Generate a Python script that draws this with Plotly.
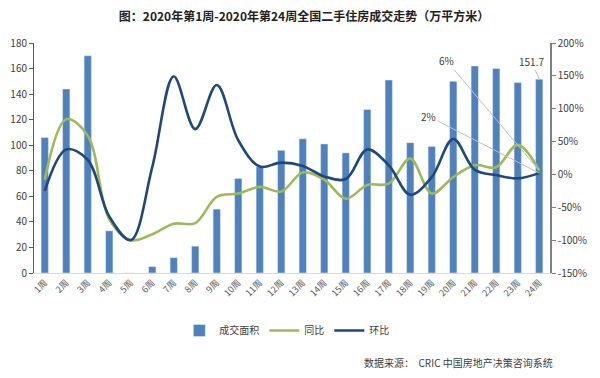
import plotly.graph_objects as go

weeks = [f"{i}周" for i in range(1, 25)]
area = [106, 144, 170, 33, 0, 5, 12, 21, 50, 74, 83, 96,
        105, 101, 94, 128, 151, 102, 99, 150, 162, 160, 149, 151.7]
yoy = [-8, 84, 59, -68, -100, -91, -75, -74, -34, -29, -19, -26,
       3, -8, -37, -16, -14, 24, -29, -4, 14, 11, 45, 6]
mom = [-25, 38, 22, -64, -100, 11, 149, 69, 136, 52, 12, 18,
       13, -3, -7, 38, 14, -31, -4, 54, 7, -1, -6, 2]

left_ticks = list(range(0, 181, 20))
right_ticks = list(range(-150, 201, 50))

FONT = "Noto Sans CJK SC"
BAR = "#4F81BD"
GREEN = "#9BBB59"
NAVY = "#1F497D"

fig = go.Figure()
fig.add_trace(go.Bar(x=weeks, y=area, name="成交面积", marker_color=BAR,
                     width=0.34, yaxis="y"))
fig.add_trace(go.Scatter(x=weeks, y=yoy, name="同比", mode="lines",
                         line=dict(color=GREEN, width=2.6, shape="spline", smoothing=1.0),
                         yaxis="y2"))
fig.add_trace(go.Scatter(x=weeks, y=mom, name="环比", mode="lines",
                         line=dict(color=NAVY, width=2.6, shape="spline", smoothing=1.0),
                         yaxis="y2"))

fig.update_layout(
    width=592, height=370,
    margin=dict(l=26, r=50, t=35, b=105, autoexpand=False),
    paper_bgcolor="white", plot_bgcolor="white",
    font=dict(family=FONT, size=10, color="#404040"),
    title=dict(text="<b>图：2020年第1周-2020年第24周全国二手住房成交走势（万平方米）</b>",
               x=0.5, xanchor="center", y=0.976, yanchor="middle",
               font=dict(family=FONT, size=12, color="#222222")),
    bargap=0.6,
    xaxis=dict(type="category", tickangle=-45, showgrid=False, automargin=False,
               showline=True, linecolor="#D9D9D9", linewidth=1,
               ticks="", tickfont=dict(size=9, color="#595959"),
               range=[-0.5, 23.5]),
    yaxis=dict(range=[0, 180], tickvals=left_ticks, showgrid=False, automargin=False,
               showline=True, linecolor="#595959", linewidth=1,
               ticks="outside", ticklen=4, tickcolor="#595959",
               tickfont=dict(size=10, color="#404040"), zeroline=False),
    yaxis2=dict(range=[-150, 200], tickvals=right_ticks,
                ticktext=[f"{v}%" for v in right_ticks], automargin=False,
                overlaying="y", side="right", showgrid=False,
                showline=True, linecolor="#808080", linewidth=1.5,
                ticks="outside", ticklen=4, tickcolor="#808080",
                tickfont=dict(size=10, color="#404040"), zeroline=False),
    legend=dict(orientation="h", x=0.49, xanchor="center", y=-0.25, yanchor="middle",
                font=dict(size=10, color="#404040"), itemwidth=30,
                tracegroupgap=0, bgcolor="rgba(0,0,0,0)"),
    showlegend=True,
)

last = weeks[-1]
fig.add_annotation(x=last, y=yoy[-1], yref="y2", text="6%", showarrow=True,
                   arrowhead=0, arrowwidth=1, arrowcolor="#BFBFBF",
                   ax=-93, ay=-110, font=dict(size=10, color="#404040"))
fig.add_annotation(x=last, y=mom[-1], yref="y2", text="2%", showarrow=True,
                   arrowhead=0, arrowwidth=1, arrowcolor="#BFBFBF",
                   ax=-111, ay=-57, font=dict(size=10, color="#404040"))
fig.add_annotation(x=last, y=area[-1], yref="y", text="151.7", showarrow=True,
                   arrowhead=0, arrowwidth=1, arrowcolor="#BFBFBF",
                   ax=-8, ay=-18, font=dict(size=10, color="#404040"))

fig.add_annotation(xref="paper", yref="paper", x=1.01, y=-0.389,
                   xanchor="right", yanchor="middle", showarrow=False,
                   text="数据来源：  CRIC 中国房地产决策咨询系统",
                   font=dict(size=10, color="#404040"))

fig.write_html("out.html")
